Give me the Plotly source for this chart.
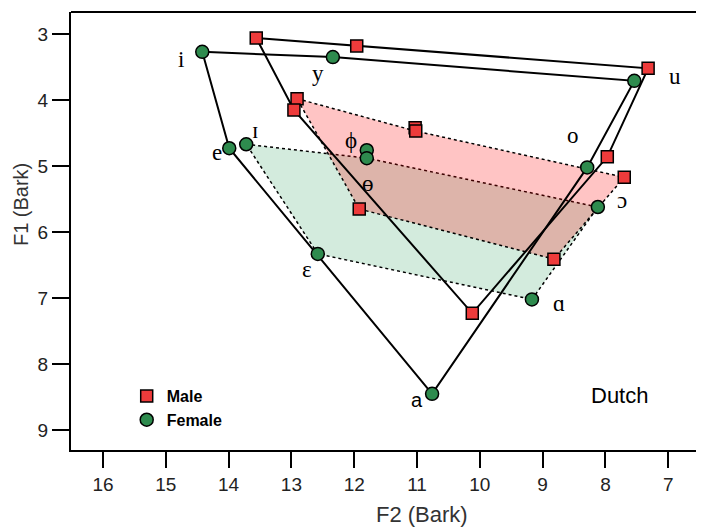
import plotly.graph_objects as go

# ---- data (Bark) ----
vowels = ["i", "y", "u", "ɪ", "e", "ø", "ɵ", "o", "ɔ", "ɛ", "ɑ", "a"]
vowel_text = ["i", "y", "u", "ɪ", "e", "ϕ", "ɵ", "o", "ɔ", "ε", "ɑ", "a"]

male_f2 = [13.56, 11.96, 7.32, 12.91, 12.96, 11.03, 11.02, 7.97, 7.70, 11.92, 8.82, 10.12]
male_f1 = [3.06, 3.18, 3.52, 3.98, 4.15, 4.42, 4.47, 4.86, 5.17, 5.65, 6.41, 7.23]

female_f2 = [14.42, 12.34, 7.54, 13.72, 13.99, 11.80, 11.80, 8.29, 8.12, 12.58, 9.17, 10.76]
female_f1 = [3.27, 3.35, 3.71, 4.67, 4.73, 4.76, 4.88, 5.02, 5.62, 6.33, 7.02, 8.45]

outline_order = ["i", "y", "u", "o", "a", "e", "i"]
lax_order = ["ɪ", "ɵ", "ɔ", "ɑ", "ɛ", "ɪ"]

x_ticks = [16, 15, 14, 13, 12, 11, 10, 9, 8, 7]
y_ticks = [3, 4, 5, 6, 7, 8, 9]

# label offsets in pixels relative to the female point (style only)
label_shift = {
    "i": (-21, 8), "y": (-15, 16), "u": (41, -4), "ɪ": (9, -14), "e": (-12, 4),
    "ø": (-16, -10), "ɵ": (1, 25), "o": (-14, -32), "ɔ": (24, -7), "ɛ": (-11, 16),
    "ɑ": (27, 4), "a": (-15, 6),
}


def pick(order, xs, ys):
    idx = [vowels.index(v) for v in order]
    return [xs[i] for i in idx], [ys[i] for i in idx]


fig = go.Figure()

# lax-vowel areas
fx, fy = pick(lax_order, female_f2, female_f1)
fig.add_trace(go.Scatter(x=fx, y=fy, mode="lines", fill="toself",
                         fillcolor="#D3EBDD",
                         line=dict(color="black", width=1.5, dash="dot"),
                         showlegend=False, hoverinfo="skip"))
mx, my = pick(lax_order, male_f2, male_f1)
fig.add_trace(go.Scatter(x=mx, y=my, mode="lines", fill="toself",
                         fillcolor="rgba(255,0,0,0.23)",
                         line=dict(color="black", width=1.5, dash="dot"),
                         showlegend=False, hoverinfo="skip"))

# outer vowel triangles
fx, fy = pick(outline_order, female_f2, female_f1)
fig.add_trace(go.Scatter(x=fx, y=fy, mode="lines",
                         line=dict(color="black", width=2),
                         showlegend=False, hoverinfo="skip"))
mx, my = pick(outline_order, male_f2, male_f1)
fig.add_trace(go.Scatter(x=mx, y=my, mode="lines",
                         line=dict(color="black", width=2),
                         showlegend=False, hoverinfo="skip"))

# markers
fig.add_trace(go.Scatter(x=male_f2, y=male_f1, mode="markers", name="Male",
                         marker=dict(symbol="square", size=12, color="#EE3B3B",
                                     line=dict(color="black", width=1.5))))
fig.add_trace(go.Scatter(x=female_f2, y=female_f1, mode="markers", name="Female",
                         marker=dict(symbol="circle", size=13, color="#2E8B4E",
                                     line=dict(color="black", width=1.5))))

# vowel labels
for v, t, x, y in zip(vowels, vowel_text, female_f2, female_f1):
    dx, dy = label_shift[v]
    fam = "Arial, Liberation Sans, sans-serif" if v == "a" else "Liberation Serif, DejaVu Serif, serif"
    fig.add_annotation(x=x, y=y, text=t, showarrow=False, xshift=dx, yshift=-dy,
                       xanchor="center", yanchor="middle",
                       font=dict(family=fam, size=23 if v != "a" else 20, color="black"))

fig.add_annotation(xref="paper", yref="paper", x=0.867, y=0.125, text="Dutch",
                   showarrow=False, xanchor="center", yanchor="middle",
                   font=dict(family="Arial, Liberation Sans, sans-serif",
                             size=22, color="black"))
fig.add_annotation(xref="paper", yref="paper", x=0.555, y=-0.148, text="F2 (Bark)",
                   showarrow=False, xanchor="center", yanchor="middle",
                   font=dict(family="Arial, Liberation Sans, sans-serif", size=22, color="#333"))
fig.add_annotation(xref="paper", yref="paper", x=-0.08, y=0.56, text="F1 (Bark)",
                   showarrow=False, textangle=-90, xanchor="center", yanchor="middle",
                   font=dict(family="Arial, Liberation Sans, sans-serif", size=20, color="#333"))

fig.add_shape(type="line", xref="paper", yref="paper", x0=0, x1=1, y0=1, y1=1,
              line=dict(color="black", width=2))

fig.update_xaxes(range=[16.51, 6.43], tickvals=x_ticks, ticks="outside", ticklen=16,
                 tickwidth=2, tickcolor="black", showline=True, linecolor="black",
                 linewidth=2, showgrid=False, zeroline=False,
                 tickfont=dict(family="Arial, Liberation Sans, sans-serif", size=19, color="#222"))
fig.update_yaxes(range=[9.30, 2.667], tickvals=y_ticks, ticks="outside", ticklen=17,
                 tickwidth=2, tickcolor="black", showline=True, linecolor="black",
                 linewidth=2, showgrid=False, zeroline=False,
                 tickfont=dict(family="Arial, Liberation Sans, sans-serif", size=19, color="#222"))

# the page adds an 8px body margin, so the figure is sized/offset to compensate
fig.update_layout(
    width=696, height=520,
    margin=dict(l=63, r=0, t=4, b=78),
    plot_bgcolor="white", paper_bgcolor="white",
    legend=dict(x=0.088, y=0.162, xanchor="left", yanchor="top",
                bgcolor="rgba(0,0,0,0)", tracegroupgap=0,
                font=dict(family="Arial, Liberation Sans, sans-serif", size=16,
                          color="black", weight="bold")),
)

fig.write_html("out.html")
